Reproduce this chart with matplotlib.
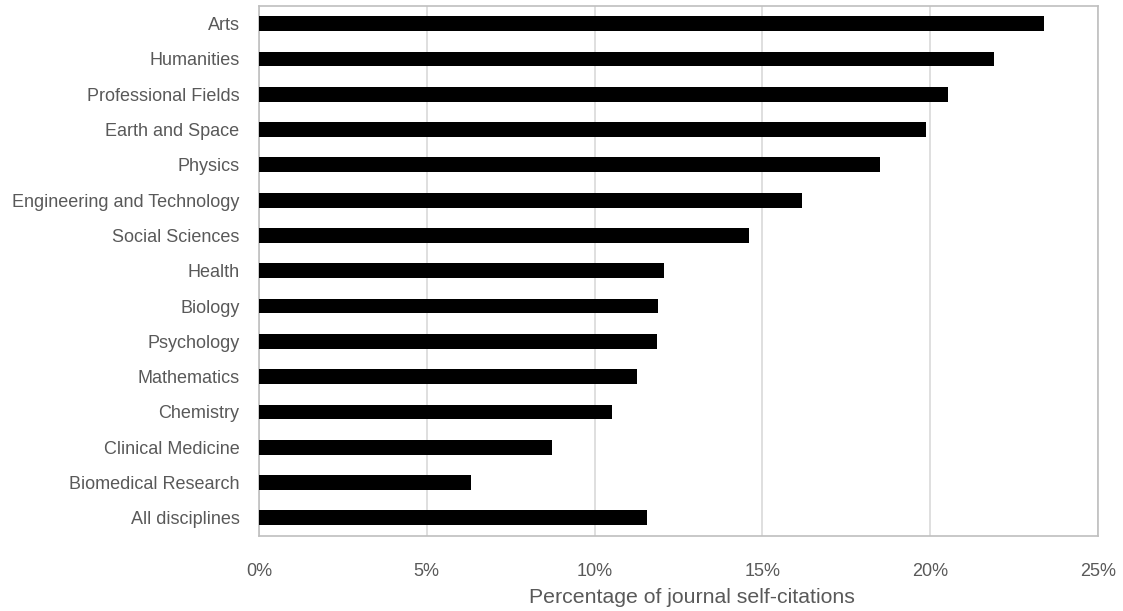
import matplotlib
matplotlib.use("Agg")
import matplotlib.pyplot as plt
from matplotlib.ticker import FuncFormatter

categories = ["Arts", "Humanities", "Professional Fields", "Earth and Space", "Physics",
              "Engineering and Technology", "Social Sciences", "Health", "Biology",
              "Psychology", "Mathematics", "Chemistry", "Clinical Medicine",
              "Biomedical Research", "All disciplines"]
values = [23.38, 21.9, 20.52, 19.87, 18.51, 16.17, 14.6, 12.08, 11.9,
          11.85, 11.26, 10.52, 8.74, 6.31, 11.57]
xticks = [0, 5, 10, 15, 20, 25]

plt.rcParams['font.family'] = ['Liberation Sans', 'DejaVu Sans']
text_color = '#595959'

fig = plt.figure(figsize=(11.23, 6.11), dpi=100)
ax = fig.add_axes([259/1123, 1-535.5/611, (1098-259)/1123, (535.5-6)/611])

n = len(categories)
ypos = [n - 1 - i for i in range(n)]
ax.barh(ypos, values, height=0.42, color='black', zorder=3)

ax.set_xlim(0, 25)
ax.set_ylim(-0.5, n - 0.5)
ax.set_xticks(xticks)
ax.xaxis.set_major_formatter(FuncFormatter(lambda v, p: f"{v:.0f}%"))
ax.set_yticks(ypos)
ax.set_yticklabels(categories)
ax.tick_params(axis='both', length=0, labelsize=13, colors=text_color)
ax.tick_params(axis='y', pad=14)
ax.tick_params(axis='x', pad=20)
ax.grid(axis='x', color='#d9d9d9', linewidth=1.2, zorder=0)
ax.set_axisbelow(True)
for s in ax.spines.values():
    s.set_color('#bfbfbf')
    s.set_linewidth(1.2)
ax.set_xlabel("Percentage of journal self-citations", fontsize=15.3, color=text_color)
ax.xaxis.set_label_coords(0.516, -0.118, transform=ax.transAxes)
ax.xaxis.label.set_va('center')

fig.savefig("out.png", dpi=100)
